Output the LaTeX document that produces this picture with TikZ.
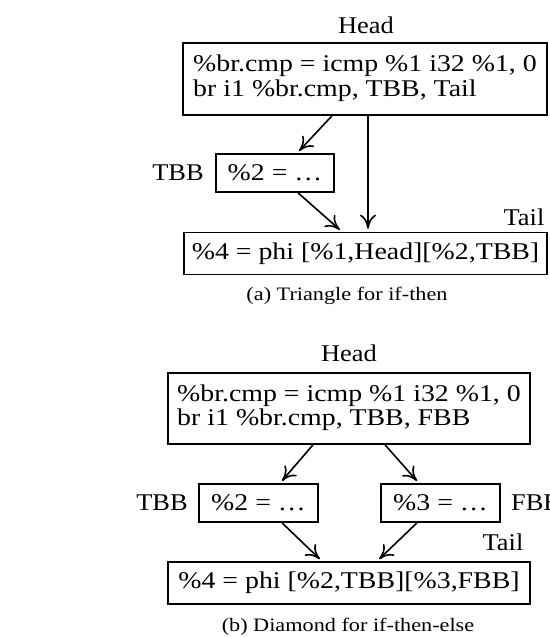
\documentclass[tikz,border=0pt]{standalone}
\usepackage{fontspec}
\usepackage{graphicx}
\setmainfont{Liberation Serif}
\usetikzlibrary{arrows.meta}
\newcommand\boxtxt[1]{\scalebox{1.16}[1]{#1}}
\newcommand\lbltxt[1]{\scalebox{1.1}[1]{#1}}
\newcommand\captext[1]{\scalebox{1.17}[1]{#1}}
\newcommand\twolines[2]{\raisebox{3pt}{\boxtxt{\begin{tabular}{@{}l@{}}#1\\#2\end{tabular}}}}
\begin{document}
\begin{tikzpicture}[x=1pt,y=-1pt,
  box/.style={draw,line width=1.6pt,inner sep=0pt,font=\fontsize{24}{24.5}\selectfont},
  lbl/.style={inner sep=0pt,font=\fontsize{24}{24.5}\selectfont},
  captxt/.style={inner sep=0pt,font=\fontsize{19}{22}\selectfont},
  edge/.style={line width=1.6pt,-{To[length=14pt,width=16pt]},shorten >=3pt}
]
\clip (0,0) rectangle (549,637);
% ---- (a) triangle
\node[lbl] (headAl) at (366,25) {\lbltxt{Head}};
\node[box,minimum width=364pt,minimum height=72pt] (headA) at (365,79)
  {\twolines{\%br.cmp = icmp \%1 i32 \%1, 0}{br i1 \%br.cmp, TBB, Tail}};
\node[box,minimum width=118pt,minimum height=38pt] (tbbA) at (275,173) {\boxtxt{\%2 = \ldots}};
\node[lbl] (tbbAl) at (178,173) {\lbltxt{TBB}};
\node[box,minimum width=363pt,minimum height=42pt] (tailA) at (365.5,253.5)
  {\boxtxt{\%4 = phi [\%1,Head][\%2,TBB]}};
\node[lbl] (tailAl) at (524,217) {\lbltxt{Tail}};
\node[captxt] (capA) at (347,296) {\captext{(a) Triangle for if-then}};
\draw[edge] ([xshift=-33pt]headA.south) -- ([xshift=22pt]tbbA.north);
\draw[edge] ([xshift=23pt]tbbA.south) -- ([xshift=-23.5pt]tailA.north);
\draw[edge] ([xshift=3pt]headA.south) -- ([xshift=2.5pt]tailA.north);
% ---- (b) diamond
\node[lbl] (headBl) at (349,353) {\lbltxt{Head}};
\node[box,minimum width=362pt,minimum height=71pt] (headB) at (349,408.5)
  {\twolines{\%br.cmp = icmp \%1 i32 \%1, 0}{br i1 \%br.cmp, TBB, FBB}};
\node[box,minimum width=119pt,minimum height=38pt] (tbbB) at (258.5,503) {\boxtxt{\%2 = \ldots}};
\node[box,minimum width=119pt,minimum height=38pt] (fbbB) at (440.5,503) {\boxtxt{\%3 = \ldots}};
\node[lbl] (tbbBl) at (162,503) {\lbltxt{TBB}};
\node[lbl,anchor=west] (fbbBl) at (511,503) {\lbltxt{FBB}};
\node[lbl] (tailBl) at (503,542) {\lbltxt{Tail}};
\node[box,minimum width=362pt,minimum height=42pt] (tailB) at (349,583)
  {\boxtxt{\%4 = phi [\%2,TBB][\%3,FBB]}};
\node[captxt] (capB) at (348,627) {\captext{(b) Diamond for if-then-else}};
\draw[edge] ([xshift=-36pt]headB.south) -- ([xshift=21.5pt]tbbB.north);
\draw[edge] ([xshift=36pt]headB.south) -- ([xshift=-21.5pt]fbbB.north);
\draw[edge] ([xshift=23.5pt]tbbB.south) -- ([xshift=-27pt]tailB.north);
\draw[edge] ([xshift=-23.5pt]fbbB.south) -- ([xshift=28pt]tailB.north);
\end{tikzpicture}
\end{document}
